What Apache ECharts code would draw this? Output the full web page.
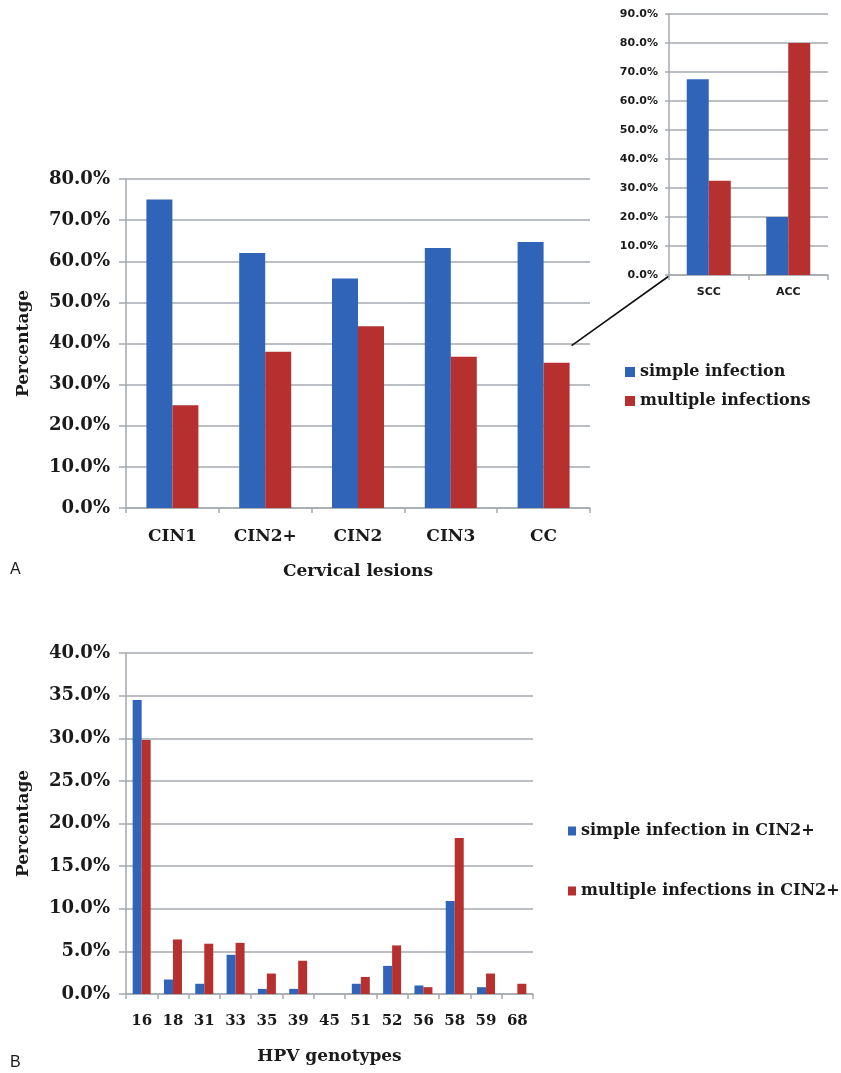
<!DOCTYPE html>
<html>
<head>
<meta charset="utf-8">
<script src="https://cdn.jsdelivr.net/npm/echarts@6/dist/echarts.min.js"></script>
<style>
  html, body { margin: 0; padding: 0; background: #fff; }
  #chart { width: 841px; height: 1073px; }
</style>
</head>
<body>
<div id="chart"></div>
<script>
// Panel A: infection type by cervical lesion grade
const lesionCategories = ['CIN1', 'CIN2+', 'CIN2', 'CIN3', 'CC'];
const simpleByLesion = [75.0, 62.0, 55.8, 63.2, 64.7];
const multipleByLesion = [25.0, 38.0, 44.2, 36.8, 35.3];

// Inset: cervical cancer split by histology
const cancerTypes = ['SCC', 'ACC'];
const simpleByCancer = [67.5, 20.0];
const multipleByCancer = [32.5, 80.0];

// Panel B: HPV genotype distribution in CIN2+
const genotypes = ['16', '18', '31', '33', '35', '39', '45', '51', '52', '56', '58', '59', '68'];
const simpleByGenotype = [34.5, 1.7, 1.2, 4.6, 0.6, 0.6, 0, 1.2, 3.3, 1.0, 10.9, 0.8, 0];
const multipleByGenotype = [29.8, 6.4, 5.9, 6.0, 2.4, 3.9, 0, 2.0, 5.7, 0.8, 18.3, 2.4, 1.2];

const BLUE = '#3064b8';
const RED = '#b5302f';
const GRID_COLOR = '#a5aaaf';
const AXIS_COLOR = '#a5aaaf';
const TEXT = '#1a1a1a';
const SERIF = 'DejaVu Serif';

const pct = v => v.toFixed(1) + '%';

function valueAxis(gridIndex, max, interval, fontSize, fontFamily, big, name, nameGap) {
  return {
    type: 'value', gridIndex, min: 0, max, interval,
    axisLine: { show: true, lineStyle: { color: AXIS_COLOR, width: 1.5 } },
    axisTick: { show: true, length: big ? 7 : 4, lineStyle: { color: AXIS_COLOR, width: 1.5 } },
    splitLine: { show: true, lineStyle: { color: GRID_COLOR, width: 1.5 } },
    axisLabel: {
      formatter: pct, color: TEXT, fontFamily, fontWeight: 'bold', fontSize,
      margin: big ? 16 : 11
    },
    name: name || '', nameLocation: 'middle', nameGap: nameGap || 0, nameRotate: 90,
    nameTextStyle: { fontFamily: SERIF, fontWeight: 'bold', fontSize: 17, color: TEXT }
  };
}

function categoryAxis(gridIndex, data, fontSize, fontFamily, margin, name, nameGap) {
  return {
    type: 'category', gridIndex, data,
    axisLine: { show: true, lineStyle: { color: AXIS_COLOR, width: 1.5 } },
    axisTick: { show: true, alignWithLabel: false, length: 5, lineStyle: { color: AXIS_COLOR, width: 1.5 } },
    axisLabel: { color: TEXT, fontFamily, fontWeight: 'bold', fontSize, margin, interval: 0 },
    name: name || '', nameLocation: 'middle', nameGap: nameGap || 0,
    nameTextStyle: { fontFamily: SERIF, fontWeight: 'bold', fontSize: 17, color: TEXT, verticalAlign: 'top' }
  };
}

function bars(name, data, color, xi, yi, width) {
  return {
    type: 'bar', name, data, xAxisIndex: xi, yAxisIndex: yi,
    barWidth: width, barGap: '0%',
    itemStyle: { color },
    animation: false
  };
}

const chart = echarts.init(document.getElementById('chart'), null, { renderer: 'canvas' });

const legendText = { fontFamily: SERIF, fontWeight: 'bold', fontSize: 16, color: TEXT };

chart.setOption({
  backgroundColor: '#ffffff',
  animation: false,
  grid: [
    { left: 126, top: 179, width: 464, height: 329 },
    { left: 669, top: 14, width: 159, height: 261 },
    { left: 126, top: 653, width: 407, height: 341 }
  ],
  xAxis: [
    categoryAxis(0, lesionCategories, 17, SERIF, 20, 'Cervical lesions', 55),
    categoryAxis(1, cancerTypes, 11, 'DejaVu Sans', 12),
    categoryAxis(2, genotypes, 15, SERIF, 20, 'HPV genotypes', 54)
  ],
  yAxis: [
    valueAxis(0, 80, 10, 18, SERIF, true, 'Percentage', 94),
    valueAxis(1, 90, 10, 11, 'DejaVu Sans', false),
    valueAxis(2, 40, 5, 18, SERIF, true, 'Percentage', 94)
  ],
  legend: [
    {
      data: ['simple infection', 'multiple infections'],
      orient: 'vertical', left: 620, top: 359,
      itemWidth: 10, itemHeight: 10, itemGap: 13, icon: 'rect',
      textStyle: legendText, selectedMode: false
    },
    {
      data: ['simple infection in CIN2+', 'multiple infections in CIN2+'],
      orient: 'vertical', left: 563, top: 818,
      itemWidth: 8, itemHeight: 9, itemGap: 44, icon: 'rect',
      textStyle: legendText, selectedMode: false
    }
  ],
  series: [
    bars('simple infection', simpleByLesion, BLUE, 0, 0, 26),
    bars('multiple infections', multipleByLesion, RED, 0, 0, 26),
    bars('simple infection', simpleByCancer, BLUE, 1, 1, 22),
    bars('multiple infections', multipleByCancer, RED, 1, 1, 22),
    bars('simple infection in CIN2+', simpleByGenotype, BLUE, 2, 2, 9),
    bars('multiple infections in CIN2+', multipleByGenotype, RED, 2, 2, 9)
  ]
});

// Leader line from the CC bars to the origin of the histology inset,
// plus the panel letters.
const ccPoint = chart.convertToPixel({ xAxisIndex: 0, yAxisIndex: 0 }, ['CC', 39.5]);
const sccX = chart.convertToPixel({ xAxisIndex: 1 }, 'SCC');
const accX = chart.convertToPixel({ xAxisIndex: 1 }, 'ACC');
const insetLeft = sccX - (accX - sccX) / 2;
const insetBase = chart.convertToPixel({ yAxisIndex: 1 }, 0);

chart.setOption({
  graphic: [
    {
      type: 'line',
      shape: { x1: ccPoint[0] + 28, y1: ccPoint[1], x2: insetLeft, y2: insetBase + 1 },
      style: { stroke: '#111', lineWidth: 1.6 }
    },
    {
      type: 'text', left: 10, top: 562,
      style: { text: 'A', font: '16px "Liberation Sans"', fill: TEXT }
    },
    {
      type: 'text', left: 10, top: 1055,
      style: { text: 'B', font: '16px "Liberation Sans"', fill: TEXT }
    }
  ]
});
</script>
</body>
</html>
